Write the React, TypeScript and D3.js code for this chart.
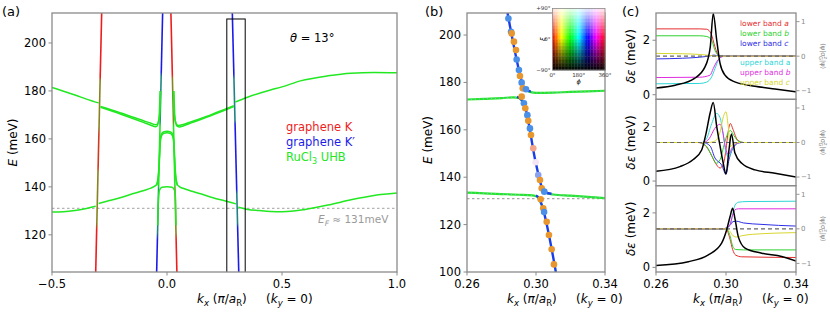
import * as d3 from "d3"

const FONT = "'DejaVu Sans', Verdana, sans-serif"
const SPINE = "#8a8a8a"
const RED = "#ee1d1d"
const BLUE = "#1b1be8"
const LIME = "#22e822"

// ---------- panel (a) ----------
const aKTicks = [-0.5, 0, 0.5, 1]
const aKLabels = ["−0.5", "0.0", "0.5", "1.0"]
const aETicks = [120, 140, 160, 180, 200]

// graphene bands: [k, E] at top and bottom of the frame
const lineK1 = [[-0.284, 212.5], [-0.31, 104.5]]
const lineK2 = [[0.017, 212.5], [0.043, 104.5]]
const lineKp1 = [[-0.019, 212.5], [-0.045, 104.5]]
const lineKp2 = [[0.284, 212.5], [0.312, 104.5]]
// how much green each graphene band carries along E: [E, mix]
const mixK1 = [[212.5, 0], [186, 0], [184, 0.5], [165, 0.5], [162, 0.15], [148, 0.15], [146, 0.5], [125, 0.5], [122, 0], [104.5, 0]]
const mixK2 = [[212.5, 0], [187, 0], [185, 0.5], [167, 0.6], [165, 1], [141, 1], [139, 0.6], [121, 0.5], [118, 0], [104.5, 0]]
const mixKp1 = [[212.5, 0], [188, 0], [186, 0.5], [167, 0.6], [165, 1], [141, 1], [139, 0.6], [121, 0.5], [118, 0], [104.5, 0]]
const mixKp2 = [[212.5, 0], [187, 0], [185, 0.5], [168, 0.5], [166, 0], [139, 0], [137, 0.5], [125, 0.5], [123, 0], [104.5, 0]]

// RuCl3 UHB bands
const upperLeftOuter = [[-0.5, 181.5], [-0.45, 179.9], [-0.4, 178.3], [-0.35, 176.6], [-0.297, 175.0]]
const upperLeftInner = [[-0.289, 173.5], [-0.25, 172.4], [-0.2, 170.8], [-0.15, 169.1], [-0.1, 167.5], [-0.07, 166.5], [-0.05, 165.9], [-0.042, 166.2], [-0.036, 167.5], [-0.032, 170], [-0.03, 174], [-0.028, 180]]
const upperLeftInner2 = [[-0.289, 173.2], [-0.2, 170.3], [-0.1, 166.8], [-0.07, 165.7], [-0.05, 165.1], [-0.043, 165.4], [-0.038, 166.8], [-0.034, 169.5], [-0.032, 174], [-0.03, 180]]
const upperRightInner = [[0.028, 180], [0.03, 174], [0.032, 170], [0.036, 167.5], [0.042, 166], [0.05, 165.6], [0.07, 166], [0.1, 167], [0.15, 168.6], [0.2, 170.4], [0.25, 172.3], [0.29, 173.8]]
const upperRightInner2 = [[0.03, 180], [0.032, 174], [0.034, 169.5], [0.038, 166.6], [0.045, 165.2], [0.055, 165], [0.07, 165.4], [0.1, 166.5], [0.2, 170], [0.29, 173.5]]
const upperRightOuter = [[0.297, 175.4], [0.35, 177.4], [0.45, 180.4], [0.5, 181.7], [0.58, 184.2], [0.7, 186.3], [0.8, 187.4], [0.9, 187.7], [1.0, 187.6]]
const lowerLeftOuter = [[-0.5, 129.5], [-0.45, 129.6], [-0.4, 130.1], [-0.35, 131], [-0.31, 131.9]]
const middleBand = [[-0.297, 133.1], [-0.25, 134.3], [-0.2, 135.6], [-0.15, 137.1], [-0.1, 138.5], [-0.07, 139.5], [-0.055, 140.2], [-0.045, 141], [-0.04, 143], [-0.036, 147], [-0.033, 153], [-0.03, 159], [-0.025, 161.8], [-0.015, 162.9], [0, 163.2], [0.015, 162.9], [0.025, 161.8], [0.03, 159], [0.033, 153], [0.036, 147], [0.04, 143], [0.045, 141], [0.055, 140], [0.07, 139.4], [0.1, 138.4], [0.15, 137], [0.2, 135.5], [0.25, 134.2], [0.3, 132.9]]
const middleBand2 = [[-0.045, 140.6], [-0.039, 143], [-0.035, 147], [-0.032, 153], [-0.029, 158.5], [-0.024, 161.2], [-0.014, 162.3], [0, 162.6], [0.014, 162.3], [0.024, 161.2], [0.029, 158.5], [0.032, 153], [0.035, 147], [0.039, 143], [0.045, 140.6]]
const smallArch = [[-0.04, 124], [-0.039, 130], [-0.037, 135], [-0.033, 138.5], [-0.022, 139.8], [0, 140.1], [0.022, 139.8], [0.033, 138.5], [0.037, 135], [0.038, 130], [0.039, 124]]
const lowerRightOuter = [[0.31, 131.5], [0.35, 130.6], [0.4, 130.1], [0.45, 129.7], [0.5, 129.6], [0.55, 129.9], [0.6, 130.6], [0.7, 132.4], [0.8, 134.6], [0.9, 136.4], [1.0, 137.4]]
const fermiE = 131
const zoomBox = [0.26, 0.34, 100, 210]

// ---------- panel (b) ----------
const bKTicks = [0.26, 0.3, 0.34]
const bKLabels = ["0.26", "0.30", "0.34"]
const bETicks = [100, 120, 140, 160, 180, 200]
const bBlueUpper = [[0.2835, 209.3], [0.2905, 184], [0.2925, 178.5], [0.294, 176.8], [0.297, 176.2]]
const bBlueMiddle = [[0.289, 173.9], [0.2915, 172.8], [0.2935, 170], [0.2998, 146.3], [0.3035, 135.5], [0.3055, 133.6], [0.309, 133]]
const bBlueLower = [[0.3, 132.2], [0.302, 131], [0.3035, 128], [0.3115, 100]]
const bGreenUR = [[0.2925, 178.5], [0.294, 176.8], [0.297, 175.9], [0.3, 175.6], [0.31, 175.7], [0.32, 176], [0.33, 176.2], [0.34, 176.5]]
const bGreenUL = [[0.26, 172.8], [0.27, 173.1], [0.28, 173.4], [0.287, 173.7], [0.29, 173.5], [0.2915, 172.5], [0.293, 170.5]]
const bGreenLR = [[0.3035, 135.5], [0.305, 133.8], [0.307, 133.1], [0.31, 132.7], [0.32, 132.2], [0.33, 131.7], [0.34, 131.2]]
const bGreenLL = [[0.26, 133.5], [0.27, 133.2], [0.28, 132.9], [0.29, 132.6], [0.298, 132.3], [0.3005, 131.8], [0.302, 130.8], [0.303, 128.5]]
// computed states: k, E, colour key
const bDots: [number, number, string][] = [
  [0.284, 207.0, "b"], [0.2855, 201.4, "b"], [0.2859, 200.7, "o"], [0.2872, 197.2, "o"], [0.2884, 193.7, "o"],
  [0.2888, 189.7, "b"], [0.2901, 185.2, "b"], [0.2907, 182.7, "o"], [0.2917, 179.9, "b"], [0.2923, 177.5, "o"],
  [0.2942, 177.1, "b"], [0.2917, 174.0, "o"], [0.293, 171.2, "b"], [0.2938, 169.1, "o"], [0.295, 166.2, "b"],
  [0.2955, 163.8, "o"], [0.2965, 160.6, "b"], [0.2971, 157.8, "o"], [0.2984, 152.2, "p"], [0.2998, 146.3, "w"],
  [0.3013, 140.9, "l"], [0.3023, 138.8, "o"], [0.3033, 135.3, "o"], [0.3048, 133.9, "b"], [0.3027, 130.7, "o"],
  [0.3042, 126.9, "o"], [0.3047, 125.3, "b"], [0.3062, 121.2, "o"], [0.3075, 115.6, "o"], [0.3091, 109.6, "o"],
  [0.3104, 103.2, "o"],
]
const dotColors: Record<string, string> = { b: "#4a8fe8", o: "#e8962e", p: "#f2a58a", w: "#f5e4f5", l: "#8aa0f0" }
const insetXTicks = ["0°", "180°", "360°"]
const insetYTicks = ["+90°", "0°", "−90°"]

// ---------- panel (c) ----------
const cKTicks = [0.26, 0.3, 0.34]
const cKLabels = ["0.26", "0.30", "0.34"]
const cLeftTicks = [0, 2]
const cRightTicks = [1, 0, -1]
const cRightLabels = ["1", "0", "−1"]
const cColors = ["#e62e2e", "#2ed12e", "#2e2ee6", "#2ed6d6", "#e02ee0", "#d6d62e"]
const cLegend = [["lower band ", "a"], ["lower band ", "b"], ["lower band ", "c"], ["upper band ", "a"], ["upper band ", "b"], ["upper band ", "c"]]

const c0Black = [[0.26, 0.25], [0.271, 0.35], [0.282, 0.6], [0.288, 1.02], [0.291, 1.75], [0.2927, 2.98], [0.2947, 2.0], [0.2966, 1.15], [0.2994, 0.72], [0.305, 0.47], [0.3166, 0.31], [0.328, 0.21], [0.34, 0.11]]
const c0Red = [[0.26, 0.79], [0.285, 0.79], [0.289, 0.78], [0.2915, 0.65], [0.2937, 0.27], [0.2956, 0.03], [0.298, 0], [0.34, 0]]
const c0Green = [[0.26, 0.59], [0.285, 0.59], [0.289, 0.57], [0.2918, 0.46], [0.2937, 0.17], [0.296, 0.02], [0.298, 0], [0.34, 0]]
const c0Blue = [[0.26, -0.08], [0.275, -0.06], [0.285, -0.03], [0.291, 0.01], [0.293, 0.03], [0.296, 0.01], [0.3, 0], [0.34, 0]]
const c0Cyan = [[0.26, -0.8], [0.285, -0.79], [0.289, -0.75], [0.2918, -0.6], [0.2937, -0.36], [0.2956, -0.12], [0.2975, -0.02], [0.3, 0], [0.34, 0]]
const c0Magenta = [[0.26, -0.62], [0.285, -0.61], [0.2909, -0.55], [0.2927, -0.36], [0.2947, -0.16], [0.2966, -0.05], [0.299, 0], [0.34, 0]]
const c0Yellow = [[0.26, 0.08], [0.275, 0.07], [0.285, 0.05], [0.291, 0.02], [0.295, 0], [0.34, 0]]

const c1Black = [[0.26, 0.36], [0.2737, 0.53], [0.2811, 0.78], [0.2861, 1.14], [0.2886, 1.75], [0.2909, 2.49], [0.2927, 2.88], [0.2947, 2.0], [0.2966, 1.29], [0.2983, 0.7], [0.3, 0.26], [0.3017, 1.14], [0.3031, 1.73], [0.3051, 1.03], [0.309, 0.65], [0.3166, 0.41], [0.328, 0.29], [0.34, 0.15]]
const c1Red = [[0.26, 0], [0.284, 0], [0.288, -0.08], [0.291, -0.3], [0.294, -0.6], [0.2966, -0.74], [0.2985, -0.62], [0.3, -0.2], [0.3012, 0.3], [0.3025, 0.55], [0.304, 0.38], [0.3065, 0.08], [0.31, 0], [0.34, 0]]
const c1Green = [[0.26, 0], [0.285, 0], [0.289, -0.12], [0.2925, -0.45], [0.2945, -0.6], [0.2966, -0.5], [0.2985, -0.15], [0.3005, 0.2], [0.3025, 0.35], [0.3045, 0.2], [0.307, 0.04], [0.31, 0], [0.34, 0]]
const c1Blue = [[0.26, 0], [0.287, 0], [0.2909, -0.1], [0.2937, -0.45], [0.2975, -0.65], [0.3, -0.92], [0.3017, -0.5], [0.3045, -0.12], [0.308, 0], [0.34, 0]]
const c1Cyan = [[0.26, 0], [0.286, 0], [0.289, 0.12], [0.2915, 0.5], [0.2947, 0.84], [0.2966, 0.72], [0.2985, 0.2], [0.3, -0.3], [0.3015, -0.42], [0.3035, -0.2], [0.306, -0.04], [0.309, 0], [0.34, 0]]
const c1Magenta = [[0.26, 0], [0.287, 0], [0.2905, 0.12], [0.2935, 0.4], [0.2966, 0.53], [0.298, 0.35], [0.2995, -0.1], [0.3013, -0.35], [0.3035, -0.15], [0.306, -0.03], [0.309, 0], [0.34, 0]]
const c1Yellow = [[0.26, 0], [0.29, 0], [0.294, 0.05], [0.2966, 0.3], [0.2985, 0.75], [0.3, 0.89], [0.3012, 0.5], [0.3025, -0.12], [0.304, -0.05], [0.307, 0], [0.34, 0]]

const c2Black = [[0.26, 0.07], [0.2785, 0.21], [0.2899, 0.46], [0.2975, 0.89], [0.3004, 1.38], [0.3023, 1.86], [0.3038, 2.17], [0.3051, 1.8], [0.307, 1.13], [0.3109, 0.71], [0.3204, 0.52], [0.3318, 0.4], [0.34, 0.23]]
const c2Red = [[0.26, 0], [0.3, 0], [0.3023, -0.3], [0.3038, -0.6], [0.3055, -0.76], [0.309, -0.81], [0.34, -0.83]]
const c2Green = [[0.26, 0], [0.3, 0], [0.3023, -0.2], [0.3038, -0.5], [0.3055, -0.6], [0.31, -0.61], [0.34, -0.61]]
const c2Blue = [[0.26, 0], [0.299, 0], [0.3004, 0.02], [0.3023, 0.1], [0.304, 0.21], [0.306, 0.22], [0.31, 0.17], [0.32, 0.13], [0.33, 0.1], [0.34, 0.08]]
const c2Cyan = [[0.26, 0], [0.298, 0], [0.3004, 0.03], [0.3023, 0.12], [0.3035, 0.35], [0.3051, 0.68], [0.307, 0.77], [0.312, 0.79], [0.34, 0.8]]
const c2Magenta = [[0.26, 0], [0.298, 0], [0.3004, 0.03], [0.3023, 0.12], [0.3038, 0.4], [0.3051, 0.55], [0.307, 0.58], [0.34, 0.58]]
const c2Yellow = [[0.26, 0], [0.3, 0], [0.3023, -0.08], [0.304, -0.2], [0.306, -0.24], [0.309, -0.2], [0.315, -0.16], [0.34, -0.11]]

const cRows = [
  { black: c0Black, curves: [c0Red, c0Green, c0Blue, c0Cyan, c0Magenta, c0Yellow] },
  { black: c1Black, curves: [c1Red, c1Green, c1Blue, c1Cyan, c1Magenta, c1Yellow] },
  { black: c2Black, curves: [c2Red, c2Green, c2Blue, c2Cyan, c2Magenta, c2Yellow] },
]

const KLabel = ({ x, y }: { x: number; y: number }) => (
  <g fontFamily={FONT} fontSize={12} fill="#000">
    <text x={x} y={y}>
      <tspan fontStyle="italic">k</tspan>
      <tspan fontSize={8.5} dy={3} fontStyle="italic">x</tspan>
      <tspan dy={-3}> (</tspan>
      <tspan fontStyle="italic">π</tspan>
      <tspan>/</tspan>
      <tspan fontStyle="italic">a</tspan>
      <tspan fontSize={8.5} dy={3}>R</tspan>
      <tspan dy={-3}>)</tspan>
    </text>
    <text x={x + 69} y={y}>
      <tspan>(</tspan>
      <tspan fontStyle="italic">k</tspan>
      <tspan fontSize={8.5} dy={3} fontStyle="italic">y</tspan>
      <tspan dy={-3}> = 0)</tspan>
    </text>
  </g>
)

const App = () => {
  const xa = d3.scaleLinear().domain([-0.5, 1]).range([52, 397])
  const ya = d3.scaleLinear().domain([104.5, 212.5]).range([272, 13])
  const xb = d3.scaleLinear().domain([0.26, 0.34]).range([467, 605])
  const yb = d3.scaleLinear().domain([100, 209.3]).range([272, 13])
  const xc = d3.scaleLinear().domain([0.26, 0.34]).range([656, 796])
  const rowH = 259 / 3

  const lineA = d3.line<number[]>().x((d) => xa(d[0])).y((d) => ya(d[1])).curve(d3.curveMonotoneX)
  const lineB = d3.line<number[]>().x((d) => xb(d[0])).y((d) => yb(d[1])).curve(d3.curveMonotoneX)

  const grLines = [
    { id: "gK1", pts: lineK1, base: RED, mix: mixK1 },
    { id: "gK2", pts: lineK2, base: RED, mix: mixK2 },
    { id: "gKp1", pts: lineKp1, base: BLUE, mix: mixKp1 },
    { id: "gKp2", pts: lineKp2, base: BLUE, mix: mixKp2 },
  ]
  const greenA = [upperLeftOuter, upperLeftInner, upperLeftInner2, upperRightInner, upperRightInner2, upperRightOuter, lowerLeftOuter, middleBand, middleBand2, smallArch, lowerRightOuter]
  const greenB = [bGreenUR, bGreenUL, bGreenLR, bGreenLL]

  // inset colour map (phi along x, xi along y)
  const inX0 = 552.5, inX1 = 605, inY0 = 8.5, inY1 = 70
  const nPhi = 36, nXi = 18
  const cells: { x: number; y: number; c: string }[] = []
  for (let i = 0; i < nPhi; i++) {
    for (let j = 0; j < nXi; j++) {
      const phi = (i + 0.5) * (360 / nPhi)
      const xi = 90 - (j + 0.5) * (180 / nXi)
      cells.push({ x: i, y: j, c: d3.hsl(phi, 1, (xi + 90) / 180 * 0.96).formatHex() })
    }
  }
  const cw = (inX1 - inX0) / nPhi, ch = (inY1 - inY0) / nXi

  return (
    <svg width={830} height={312} style={{ position: "absolute", left: 0, top: 0, background: "#fff" }} fontFamily={FONT}>
      <defs>
        <clipPath id="clipA"><rect x={52} y={13} width={345} height={259} /></clipPath>
        <clipPath id="clipB"><rect x={467} y={13} width={138} height={259} /></clipPath>
        {[0, 1, 2].map((r) => (
          <clipPath key={r} id={`clipC${r}`}><rect x={656} y={13 + r * rowH} width={140} height={rowH} /></clipPath>
        ))}
        {grLines.map((g) => {
          const [t, b] = g.pts
          const y1 = ya(t[1]), y2 = ya(b[1])
          return (
            <linearGradient key={g.id} id={g.id} gradientUnits="userSpaceOnUse" x1={xa(t[0])} y1={y1} x2={xa(b[0])} y2={y2}>
              {g.mix.map(([e, m], i) => (
                <stop key={i} offset={(ya(e) - y1) / (y2 - y1)} stopColor={d3.interpolateRgb(g.base, LIME)(m)} />
              ))}
            </linearGradient>
          )
        })}
      </defs>

      {/* ---------------- panel (a) ---------------- */}
      <text x={2} y={16} fontSize={13}>(a)</text>
      <g clipPath="url(#clipA)">
        <line x1={52} x2={397} y1={ya(fermiE)} y2={ya(fermiE)} stroke="#b4b4b4" strokeWidth={1.3} strokeDasharray="2.5,2.5" />
        {grLines.map((g) => (
          <line key={g.id} x1={xa(g.pts[0][0])} y1={ya(g.pts[0][1])} x2={xa(g.pts[1][0])} y2={ya(g.pts[1][1])} stroke={`url(#${g.id})`} strokeWidth={1.6} />
        ))}
        {greenA.map((d, i) => (
          <path key={i} d={lineA(d) ?? ""} fill="none" stroke={LIME} strokeWidth={1.5} />
        ))}
        <rect x={xa(zoomBox[0])} y={ya(zoomBox[3])} width={xa(zoomBox[1]) - xa(zoomBox[0])} height={ya(zoomBox[2]) - ya(zoomBox[3])} fill="none" stroke="#000" strokeWidth={1} />
      </g>
      <rect x={52} y={13} width={345} height={259} fill="none" stroke={SPINE} strokeWidth={1.3} />
      {aKTicks.map((t, i) => (
        <g key={t}>
          <line x1={xa(t)} x2={xa(t)} y1={272} y2={275.5} stroke={SPINE} />
          <text x={xa(t)} y={288} fontSize={11.5} textAnchor="middle">{aKLabels[i]}</text>
        </g>
      ))}
      {aETicks.map((t) => (
        <g key={t}>
          <line x1={48.5} x2={52} y1={ya(t)} y2={ya(t)} stroke={SPINE} />
          <text x={46} y={ya(t)} dy="0.35em" fontSize={11.5} textAnchor="end">{t}</text>
        </g>
      ))}
      <text transform="translate(17,142.5) rotate(-90)" fontSize={12} textAnchor="middle">
        <tspan fontStyle="italic">E</tspan> (meV)
      </text>
      <KLabel x={197} y={303} />
      <text x={290} y={42} fontSize={11.5}><tspan fontStyle="italic">θ</tspan> = 13°</text>
      <text x={286} y={131} fontSize={11.5} fill={RED}>graphene K</text>
      <text x={286} y={146} fontSize={11.5} fill={BLUE}>graphene K′</text>
      <text x={286} y={160.5} fontSize={11.5} fill={LIME}>
        RuCl<tspan fontSize={8} dy={3}>3</tspan><tspan dy={-3}> UHB</tspan>
      </text>
      <text x={318} y={223} fontSize={10.5} fill="#9a9a9a">
        <tspan fontStyle="italic">E</tspan><tspan fontSize={7.5} dy={2.5} fontStyle="italic">F</tspan><tspan dy={-2.5}> ≈ 131meV</tspan>
      </text>

      {/* ---------------- panel (b) ---------------- */}
      <text x={425} y={16} fontSize={13}>(b)</text>
      <g clipPath="url(#clipB)">
        <line x1={467} x2={605} y1={yb(fermiE)} y2={yb(fermiE)} stroke="#a8a8a8" strokeWidth={1.2} strokeDasharray="2.5,2.5" />
        {greenB.map((d, i) => (
          <g key={i}>
            <path d={lineB(d) ?? ""} fill="none" stroke={LIME} strokeWidth={2.2} />
            <path d={lineB(d) ?? ""} fill="none" stroke="#7fb8e8" strokeWidth={1.2} strokeDasharray="1,3" />
          </g>
        ))}
        {[bBlueUpper, bBlueMiddle, bBlueLower].map((d, i) => (
          <path key={i} d={lineB(d) ?? ""} fill="none" stroke="#1a3ee6" strokeWidth={2.4} />
        ))}
        {bDots.map(([k, e, c], i) => (
          <circle key={i} cx={xb(k)} cy={yb(e)} r={3.3} fill={dotColors[c]} />
        ))}
      </g>
      <rect x={467} y={13} width={138} height={259} fill="none" stroke={SPINE} strokeWidth={1.3} />
      {bKTicks.map((t, i) => (
        <g key={t}>
          <line x1={xb(t)} x2={xb(t)} y1={272} y2={275.5} stroke={SPINE} />
          <text x={xb(t)} y={288} fontSize={11.5} textAnchor="middle">{bKLabels[i]}</text>
        </g>
      ))}
      {bETicks.map((t) => (
        <g key={t}>
          <line x1={463.5} x2={467} y1={yb(t)} y2={yb(t)} stroke={SPINE} />
          <text x={461} y={yb(t)} dy="0.35em" fontSize={11.5} textAnchor="end">{t}</text>
        </g>
      ))}
      <text transform="translate(432,140) rotate(-90)" fontSize={12} textAnchor="middle">
        <tspan fontStyle="italic">E</tspan> (meV)
      </text>
      <KLabel x={507} y={303} />
      {/* inset */}
      <rect x={inX0} y={inY0} width={inX1 - inX0} height={inY1 - inY0} fill="#fff" />
      {cells.map((c, i) => (
        <rect key={i} x={inX0 + c.x * cw} y={inY0 + c.y * ch} width={cw + 0.3} height={ch + 0.3} fill={c.c} />
      ))}
      <rect x={inX0} y={inY0} width={inX1 - inX0} height={inY1 - inY0} fill="none" stroke={SPINE} strokeWidth={0.8} />
      {insetYTicks.map((t, i) => (
        <text key={t} x={inX0 - 2} y={inY0 + (i * (inY1 - inY0)) / 2} dy="0.35em" fontSize={5.5} textAnchor="end" fill="#333">{t}</text>
      ))}
      {insetXTicks.map((t, i) => (
        <text key={t} x={inX0 + (i * (inX1 - inX0)) / 2} y={inY1 + 6.5} fontSize={5.5} textAnchor="middle" fill="#333">{t}</text>
      ))}
      <text x={(inX0 + inX1) / 2} y={inY1 + 13.5} fontSize={6.5} textAnchor="middle" fontStyle="italic">ϕ</text>
      <text transform={`translate(${inX0 - 8},${(inY0 + inY1) / 2}) rotate(-90)`} fontSize={6.5} textAnchor="middle" fontStyle="italic">ξ</text>

      {/* ---------------- panel (c) ---------------- */}
      <text x={622} y={16} fontSize={13}>(c)</text>
      {cRows.map((row, r) => {
        const top = 13 + r * rowH
        const yl = d3.scaleLinear().domain([-0.17, 3.0]).range([top + rowH, top])
        const yr = d3.scaleLinear().domain([-1.25, 1.25]).range([top + rowH, top])
        const lineL = d3.line<number[]>().x((d) => xc(d[0])).y((d) => yl(d[1])).curve(d3.curveMonotoneX)
        const lineR = d3.line<number[]>().x((d) => xc(d[0])).y((d) => yr(d[1])).curve(d3.curveMonotoneX)
        return (
          <g key={r}>
            <g clipPath={`url(#clipC${r})`}>
              {row.curves.map((d, i) => (
                <path key={i} d={lineR(d) ?? ""} fill="none" stroke={cColors[i]} strokeWidth={1} />
              ))}
              <line x1={656} x2={796} y1={yr(0)} y2={yr(0)} stroke="#666" strokeWidth={1.2} strokeDasharray="4,3" />
              <path d={lineL(row.black) ?? ""} fill="none" stroke="#000" strokeWidth={1.5} />
            </g>
            <rect x={656} y={top} width={140} height={rowH} fill="none" stroke={SPINE} strokeWidth={1.3} />
            {cLeftTicks.map((t) => (
              <g key={t}>
                <line x1={652.5} x2={656} y1={yl(t)} y2={yl(t)} stroke={SPINE} />
                <text x={650} y={yl(t)} dy="0.35em" fontSize={11.5} textAnchor="end">{t}</text>
              </g>
            ))}
            {cRightTicks.map((t, i) => (
              <g key={t}>
                <line x1={796} x2={799.5} y1={yr(t)} y2={yr(t)} stroke="#999" />
                <text x={801} y={yr(t)} dy="0.35em" fontSize={7} fill="#888">{cRightLabels[i]}</text>
              </g>
            ))}
            <text transform={`translate(635,${top + rowH / 2}) rotate(-90)`} fontSize={12} textAnchor="middle">
              <tspan fontStyle="italic">δε</tspan> (meV)
            </text>
            <text transform={`translate(821,${top + rowH / 2}) rotate(90)`} fontSize={6.5} textAnchor="middle" fill="#888">
              ⟨ψ|σ<tspan fontSize={5} dy={-2.5}>z</tspan><tspan fontSize={5} dx={-3} dy={4.5}>G</tspan><tspan dy={-2}>|ψ⟩</tspan>
            </text>
          </g>
        )
      })}
      {cLegend.map(([t, l], i) => (
        <text key={i} x={740} y={[26, 36, 46, 65, 75, 85][i]} fontSize={7.5} fill={cColors[i]}>
          {t}<tspan fontStyle={i === 3 ? "normal" : "italic"}>{l}</tspan>
        </text>
      ))}
      {cKTicks.map((t, i) => (
        <g key={t}>
          <line x1={xc(t)} x2={xc(t)} y1={272} y2={275.5} stroke={SPINE} />
          <text x={xc(t)} y={288} fontSize={11.5} textAnchor="middle">{cKLabels[i]}</text>
        </g>
      ))}
      <KLabel x={693} y={303} />
    </svg>
  )
}

export default App
